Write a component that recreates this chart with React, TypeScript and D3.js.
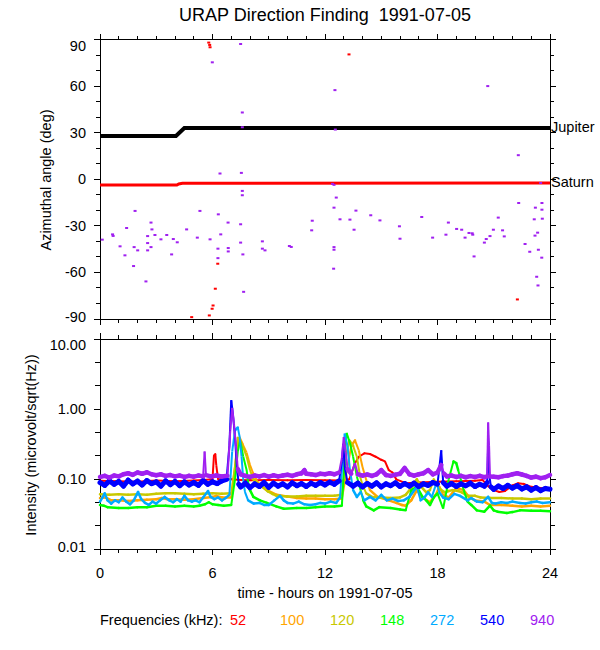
import React from 'react';
import * as d3 from 'd3';

const TITLE = 'URAP Direction Finding  1991-07-05';
const X_LABEL = 'time - hours on 1991-07-05';
const TOP_Y_LABEL = 'Azimuthal angle (deg)';
const BOTTOM_Y_LABEL = 'Intensity (microvolt/sqrt(Hz))';
const HOUR_LABELS = [0, 6, 12, 18, 24];
const ANGLE_LABELS = [90, 60, 30, 0, -30, -60, -90];
const INTENSITY_LABELS = [10, 1, 0.1, 0.01];

const FREQS = ['52', '100', '120', '148', '272', '540', '940'];
const FREQ_COLORS = ['#ff0000', '#ffa500', '#c8c800', '#00ff00', '#00aaff', '#0000ff', '#a020f0'];

// planet azimuths (hour, deg)
const jupiter: [number, number][] = [[0, 27.9], [4.05, 27.9], [4.5, 33.0], [24, 33.0]];
const saturn: [number, number][] = [[0, -3.7], [4.1, -3.7], [4.2, -3.0], [4.4, -2.6], [24, -2.4]];

// direction-finding points (hour, deg)
const azPurple: [number, number][] = [
  [0.12, -38.9], [0.67, -35.5], [0.7, -36.5], [1.07, -43.2], [1.33, -49], [1.42, -31.4], [1.79, -55.9],
  [1.82, -43.7], [1.87, -20.4], [2.01, -45.8], [2.45, -65.8], [2.54, -36.6], [2.54, -41.1], [2.54, -45.8],
  [2.72, -27.9], [2.77, -32.3], [2.72, -43.7], [2.93, -35.9], [3.25, -38.7], [3.56, -35.9], [3.82, -48.4],
  [3.91, -38.5], [4.12, -40.6], [4.62, -32.3], [5.19, -37.6], [5.33, -20.4], [5.87, -38.7], [5.99, 75.3],
  [6.31, -22.6], [6.29, -44.7], [6.29, -50.8], [6.4, 3.7], [6.44, -35.5], [6.83, -27.9], [6.84, -44.3],
  [6.84, -46.5], [7.5, 87.1], [7.59, 43], [7.59, 33.5], [7.54, 4.1], [7.59, -7.5], [7.59, -10.3], [7.5, -29],
  [7.5, -40.8], [7.62, -48.4], [7.66, -72.5], [8.66, -40], [8.66, -44.7], [8.8, -45.8], [10.1, -43],
  [10.2, -43.6], [11.32, -26.7], [11.29, -32.9], [12.53, 57.4], [12.55, 32], [12.4, -3], [12.48, -3.6],
  [12.6, -11.8], [12.48, -18.3], [12.8, -25.8], [13.33, -26], [13.55, -32.5], [13.65, -20.2], [14.44, -23.2],
  [14.93, -26.5], [15.97, -30.3], [16.0, -38.3], [12.48, -43.7], [12.48, -45.4], [12.46, -57.6], [17.16, -24.3],
  [17.74, -37.6], [18.58, -27.9], [18.45, -35.7], [19.02, -32], [19.29, -32.5], [19.47, -37.6], [19.68, -34.6],
  [19.85, -34.8], [19.88, -35.7], [19.95, -49.7], [20.5, -40.8], [20.6, -38.5], [20.8, -36.6], [20.68, 60],
  [20.98, -32.5], [21.24, -24.7], [21.47, -32.9], [21.56, -36.8], [22.31, 15.5], [22.33, -15.3], [22.67, -41.7],
  [22.92, -46.7], [23.22, -18.3], [23.16, -25.8], [23.2, -36.3], [23.34, -34.4], [23.38, -45.4], [23.29, -62.8],
  [23.36, -68.4], [23.57, -15.3], [23.57, -19.6], [23.59, -25.4], [23.56, -50.5], [23.5, -2.4],
];
const azRed: [number, number][] = [
  [5.8, 88], [5.85, 86.5], [5.87, 85], [6.28, -54.4], [6.15, -70.5], [6.03, -81.3], [5.98, -83.4],
  [5.83, -87.7], [4.89, -88.8], [13.28, 80.4], [22.26, -77.4],
];

// intensity per frequency channel (hour, microvolt/sqrt(Hz))
const s52: [number, number][] = [
  [0, 0.095], [1, 0.094], [2, 0.092], [3, 0.096], [4, 0.094], [5, 0.096], [5.5, 0.098], [6.0, 0.1],
  [6.08, 0.22], [6.15, 0.23], [6.2, 0.16], [6.3, 0.1], [7.0, 0.1], [7.5, 0.098], [8, 0.097], [9, 0.098],
  [10, 0.097], [11, 0.098], [12, 0.097], [13, 0.096], [13.3, 0.1], [13.4, 0.12], [13.6, 0.17], [13.8, 0.21],
  [14.1, 0.235], [14.4, 0.23], [14.7, 0.21], [15.0, 0.19], [15.2, 0.18], [15.4, 0.135], [15.6, 0.125],
  [15.8, 0.1], [16.3, 0.088], [17, 0.09], [18, 0.092], [19, 0.094], [20, 0.095], [20.4, 0.098], [20.7, 0.08],
  [21.0, 0.07], [21.3, 0.066], [21.6, 0.068], [22.0, 0.082], [22.3, 0.088], [22.6, 0.086], [23.0, 0.078],
  [23.5, 0.075], [24, 0.074],
];
const s100: [number, number][] = [
  [0, 0.054], [0.3, 0.055], [0.6, 0.05], [1, 0.05], [1.5, 0.049], [2, 0.05], [2.5, 0.051], [3, 0.052],
  [3.3, 0.054], [3.6, 0.052], [4, 0.052], [4.5, 0.051], [5, 0.052], [5.5, 0.054], [6, 0.056], [6.2, 0.058],
  [6.5, 0.055], [7.0, 0.055], [7.25, 0.2], [7.45, 0.39], [7.6, 0.32], [7.82, 0.24], [8.0, 0.16], [8.18, 0.12],
  [8.35, 0.095], [8.53, 0.083], [8.9, 0.07], [9.42, 0.06], [9.95, 0.057], [10.5, 0.054], [11, 0.053],
  [11.5, 0.053], [12, 0.052], [12.5, 0.052], [12.9, 0.053], [13.2, 0.15], [13.4, 0.3], [13.6, 0.36],
  [13.8, 0.26], [14.0, 0.15], [14.2, 0.098], [14.4, 0.07], [14.8, 0.056], [15.4, 0.05], [15.8, 0.046],
  [16.1, 0.043], [16.3, 0.042], [16.6, 0.05], [16.9, 0.07], [17.2, 0.055], [17.6, 0.047], [17.9, 0.06],
  [18.1, 0.08], [18.3, 0.06], [18.6, 0.055], [19.0, 0.075], [19.4, 0.07], [19.7, 0.055], [20.0, 0.05],
  [20.5, 0.048], [20.8, 0.043], [21.4, 0.043], [22, 0.042], [22.5, 0.041], [23, 0.042], [23.5, 0.041], [24, 0.042],
];
const s120: [number, number][] = [
  [0, 0.061], [0.5, 0.06], [1, 0.061], [1.5, 0.06], [2, 0.061], [2.5, 0.06], [3, 0.062], [3.5, 0.063],
  [4, 0.063], [4.5, 0.062], [5, 0.061], [5.5, 0.062], [6, 0.063], [6.5, 0.062], [7.0, 0.063], [7.2, 0.15],
  [7.35, 0.39], [7.5, 0.33], [7.65, 0.28], [7.82, 0.21], [8.0, 0.136], [8.17, 0.1], [8.35, 0.09], [8.53, 0.083],
  [8.75, 0.075], [8.96, 0.067], [9.2, 0.062], [9.42, 0.058], [10, 0.057], [10.5, 0.057], [11, 0.058],
  [11.5, 0.058], [12, 0.058], [12.5, 0.058], [12.9, 0.06], [13.1, 0.2], [13.3, 0.36], [13.5, 0.3], [13.7, 0.21],
  [13.87, 0.11], [14.0, 0.083], [14.2, 0.063], [14.5, 0.056], [15, 0.055], [15.5, 0.054], [16.0, 0.055],
  [16.3, 0.06], [16.6, 0.075], [16.9, 0.1], [17.1, 0.08], [17.4, 0.065], [17.6, 0.07], [17.8, 0.1], [18.0, 0.08],
  [18.2, 0.07], [18.4, 0.065], [18.6, 0.068], [18.8, 0.07], [19.1, 0.068], [19.3, 0.065], [19.6, 0.058],
  [20.0, 0.058], [20.3, 0.055], [20.8, 0.054], [21.4, 0.054], [22, 0.053], [22.5, 0.053], [23, 0.052],
  [23.5, 0.053], [24, 0.053],
];
const s148: [number, number][] = [
  [0, 0.043], [0.2, 0.042], [0.4, 0.04], [1, 0.039], [1.5, 0.039], [2, 0.04], [2.5, 0.04], [3.0, 0.042],
  [3.5, 0.042], [4, 0.041], [4.5, 0.042], [5.0, 0.041], [5.3, 0.042], [5.6, 0.044], [5.8, 0.047], [6.0, 0.044],
  [6.3, 0.043], [6.6, 0.042], [7.0, 0.043], [7.2, 0.1], [7.35, 0.25], [7.47, 0.36], [7.64, 0.21], [7.82, 0.136],
  [7.9, 0.088], [8.0, 0.07], [8.18, 0.056], [8.53, 0.05], [8.9, 0.046], [9.4, 0.041], [9.8, 0.038],
  [10.5, 0.039], [11.0, 0.039], [11.5, 0.04], [12, 0.041], [12.5, 0.041], [12.9, 0.042], [13.05, 0.2],
  [13.15, 0.46], [13.33, 0.33], [13.5, 0.21], [13.7, 0.11], [13.9, 0.07], [14.04, 0.05], [14.2, 0.041],
  [14.6, 0.036], [14.9, 0.04], [15.5, 0.039], [16.0, 0.037], [16.3, 0.036], [16.6, 0.07], [16.9, 0.078],
  [17.2, 0.056], [17.4, 0.05], [17.6, 0.043], [17.8, 0.055], [18.0, 0.063], [18.3, 0.038], [18.6, 0.1],
  [18.85, 0.18], [19.0, 0.17], [19.1, 0.136], [19.4, 0.07], [19.6, 0.048], [19.8, 0.043], [20.1, 0.036],
  [20.5, 0.0345], [20.8, 0.042], [21.0, 0.036], [21.2, 0.0345], [21.7, 0.033], [22.0, 0.034], [22.4, 0.036],
  [23.0, 0.0355], [23.5, 0.0355], [24, 0.035],
];
const s272: [number, number][] = [
  [0, 0.048], [0.15, 0.056], [0.25, 0.063], [0.4, 0.05], [0.6, 0.045], [0.8, 0.05], [1.0, 0.047], [1.2, 0.055],
  [1.4, 0.048], [1.6, 0.044], [1.8, 0.05], [2.03, 0.066], [2.2, 0.052], [2.4, 0.046], [2.6, 0.043], [2.8, 0.048],
  [3.0, 0.045], [3.2, 0.05], [3.45, 0.056], [3.7, 0.05], [3.9, 0.047], [4.1, 0.052], [4.3, 0.048], [4.5, 0.058],
  [4.7, 0.05], [4.9, 0.048], [5.1, 0.05], [5.3, 0.047], [5.5, 0.055], [5.76, 0.068], [5.9, 0.056], [6.1, 0.052],
  [6.3, 0.055], [6.5, 0.05], [6.7, 0.054], [6.9, 0.06], [7.05, 0.25], [7.2, 0.5], [7.35, 0.55], [7.45, 0.4],
  [7.55, 0.21], [7.64, 0.098], [7.73, 0.066], [7.9, 0.05], [8.2, 0.045], [8.5, 0.046], [8.75, 0.043],
  [9.0, 0.043], [9.3, 0.05], [9.6, 0.058], [9.8, 0.05], [10.0, 0.046], [10.3, 0.045], [10.6, 0.048],
  [10.9, 0.044], [11.2, 0.043], [11.5, 0.044], [11.75, 0.046], [12.0, 0.045], [12.3, 0.048], [12.6, 0.046],
  [12.8, 0.055], [12.95, 0.2], [13.05, 0.45], [13.2, 0.3], [13.33, 0.136], [13.5, 0.07], [13.7, 0.056],
  [13.9, 0.066], [14.1, 0.05], [14.4, 0.056], [14.7, 0.05], [15.0, 0.06], [15.3, 0.05], [15.6, 0.053],
  [15.9, 0.049], [16.2, 0.05], [16.5, 0.056], [16.9, 0.078], [17.1, 0.05], [17.3, 0.055], [17.5, 0.065],
  [17.7, 0.056], [17.95, 0.09], [18.1, 0.065], [18.3, 0.055], [18.6, 0.052], [18.9, 0.062], [19.2, 0.058],
  [19.6, 0.05], [19.8, 0.054], [20.1, 0.048], [20.4, 0.047], [20.7, 0.056], [20.9, 0.046], [21.1, 0.045],
  [21.4, 0.047], [21.7, 0.046], [22.0, 0.048], [22.4, 0.046], [22.7, 0.045], [23.0, 0.047], [23.3, 0.048],
  [23.6, 0.046], [24.0, 0.047],
];
const s540: [number, number][] = [
  [0, 0.09], [0.25, 0.082], [0.5, 0.095], [0.75, 0.085], [1.0, 0.093], [1.25, 0.08], [1.5, 0.097], [1.75, 0.086],
  [2.0, 0.094], [2.25, 0.083], [2.5, 0.096], [2.75, 0.087], [3.0, 0.092], [3.25, 0.08], [3.5, 0.095],
  [3.75, 0.084], [4.0, 0.093], [4.25, 0.081], [4.5, 0.092], [4.75, 0.083], [5.0, 0.09], [5.25, 0.082],
  [5.5, 0.096], [5.75, 0.085], [6.0, 0.092], [6.25, 0.087], [6.5, 0.095], [6.75, 0.1], [6.9, 0.3], [7.0, 1.35],
  [7.1, 0.8], [7.2, 0.4], [7.3, 0.15], [7.4, 0.085], [7.5, 0.078], [7.75, 0.088], [8.0, 0.076], [8.25, 0.086],
  [8.5, 0.079], [8.75, 0.09], [9.0, 0.077], [9.25, 0.088], [9.5, 0.08], [9.75, 0.086], [10.0, 0.078],
  [10.25, 0.089], [10.5, 0.081], [10.75, 0.087], [11.0, 0.079], [11.25, 0.088], [11.5, 0.082], [11.75, 0.09],
  [12.0, 0.083], [12.25, 0.091], [12.5, 0.085], [12.75, 0.095], [12.9, 0.18], [12.97, 0.32], [13.05, 0.15],
  [13.2, 0.09], [13.5, 0.08], [13.75, 0.088], [14.0, 0.078], [14.25, 0.087], [14.5, 0.08], [14.75, 0.089],
  [15.0, 0.078], [15.25, 0.086], [15.5, 0.081], [15.75, 0.089], [16.0, 0.079], [16.25, 0.087], [16.5, 0.08],
  [16.75, 0.088], [17.0, 0.079], [17.25, 0.086], [17.5, 0.082], [17.75, 0.09], [18.0, 0.085], [18.2, 0.26],
  [18.3, 0.09], [18.5, 0.08], [18.75, 0.087], [19.0, 0.079], [19.25, 0.086], [19.5, 0.081], [19.75, 0.088],
  [20.0, 0.079], [20.25, 0.085], [20.5, 0.08], [20.65, 0.09], [20.7, 0.31], [20.75, 0.12], [20.85, 0.078],
  [21.0, 0.072], [21.25, 0.08], [21.5, 0.074], [21.75, 0.082], [22.0, 0.075], [22.25, 0.081], [22.5, 0.073],
  [22.75, 0.078], [23.0, 0.07], [23.25, 0.076], [23.5, 0.069], [23.75, 0.074], [24.0, 0.072],
];
const s940: [number, number][] = [
  [0, 0.108], [0.25, 0.112], [0.5, 0.106], [0.75, 0.113], [1.0, 0.11], [1.25, 0.118], [1.5, 0.122],
  [1.75, 0.116], [2.0, 0.125], [2.25, 0.12], [2.5, 0.126], [2.75, 0.118], [3.0, 0.114], [3.25, 0.118],
  [3.5, 0.112], [3.75, 0.115], [4.0, 0.11], [4.25, 0.113], [4.5, 0.108], [4.75, 0.112], [5.0, 0.109],
  [5.25, 0.113], [5.5, 0.11], [5.58, 0.25], [5.65, 0.115], [5.9, 0.11], [6.2, 0.113], [6.5, 0.11], [6.8, 0.112],
  [6.95, 0.5], [7.05, 1.05], [7.15, 0.6], [7.25, 0.3], [7.35, 0.14], [7.5, 0.118], [7.75, 0.112], [8.0, 0.108],
  [8.25, 0.113], [8.5, 0.11], [8.75, 0.115], [9.0, 0.109], [9.25, 0.114], [9.5, 0.11], [9.75, 0.113],
  [10.0, 0.116], [10.25, 0.112], [10.5, 0.118], [10.75, 0.122], [10.9, 0.135], [11.0, 0.12], [11.25, 0.118],
  [11.5, 0.115], [11.75, 0.12], [12.0, 0.118], [12.25, 0.122], [12.5, 0.118], [12.75, 0.125], [12.9, 0.2],
  [13.0, 0.4], [13.1, 0.25], [13.2, 0.14], [13.4, 0.12], [13.6, 0.17], [13.75, 0.118], [14.0, 0.113],
  [14.25, 0.117], [14.5, 0.112], [14.75, 0.118], [15.0, 0.135], [15.25, 0.115], [15.5, 0.112], [15.75, 0.116],
  [16.0, 0.12], [16.25, 0.145], [16.5, 0.118], [16.75, 0.113], [17.0, 0.118], [17.25, 0.122], [17.5, 0.135],
  [17.75, 0.118], [18.0, 0.125], [18.2, 0.16], [18.35, 0.12], [18.5, 0.11], [18.75, 0.113], [19.0, 0.108],
  [19.25, 0.112], [19.5, 0.107], [19.75, 0.111], [20.0, 0.108], [20.25, 0.112], [20.5, 0.107], [20.65, 0.11],
  [20.7, 0.65], [20.75, 0.3], [20.8, 0.11], [21.0, 0.109], [21.25, 0.107], [21.5, 0.111], [21.75, 0.113],
  [22.0, 0.118], [22.25, 0.122], [22.5, 0.117], [22.75, 0.112], [23.0, 0.106], [23.25, 0.109], [23.5, 0.104],
  [23.75, 0.107], [24.0, 0.115],
];
const SERIES = [s52, s100, s120, s148, s272, s540, s940];
const SERIES_WIDTH = [2, 2.5, 2.5, 2.5, 2.5, 5, 4.5];

const FONT = '"Liberation Sans", Arial, Helvetica, sans-serif';

const x = d3.scaleLinear().domain([0, 24]).range([100, 550]);
const yAz = d3.scaleLinear().domain([-90, 90]).range([319, 39.5]);
const yInt = d3.scaleLog().domain([0.01, 10]).range([549.3, 339.3]);

const TOP = { y0: 39.5, y1: 319 };
const BOT = { y0: 339.3, y1: 549.3 };

function Frame({ y0, y1 }: { y0: number; y1: number }) {
  const hours = d3.range(0, 25);
  return (
    <g stroke="#000" strokeWidth={1} shapeRendering="crispEdges">
      <rect x={100} y={y0} width={450} height={y1 - y0} fill="none" />
      {hours.map((h) => {
        const len = h % 6 === 0 ? 6 : 4;
        return (
          <g key={h}>
            <line x1={x(h)} x2={x(h)} y1={y0} y2={y0 - len} />
            <line x1={x(h)} x2={x(h)} y1={y1} y2={y1 + len} />
          </g>
        );
      })}
    </g>
  );
}

// one channel: thick band for slow parts, thin strokes where the value jumps (spikes)
function Channel({ data, color, width }: { data: [number, number][]; color: string; width: number }) {
  const pts = data.map((d) => [x(d[0]), yInt(d[1])]);
  const segs = [];
  for (let i = 1; i < pts.length; i++) {
    const [x1, y1] = pts[i - 1];
    const [x2, y2] = pts[i];
    const steep = Math.abs(y2 - y1) > 8 && Math.abs(y2 - y1) > 2 * Math.abs(x2 - x1);
    segs.push(
      <line
        key={i}
        x1={x1}
        y1={y1}
        x2={x2}
        y2={y2}
        stroke={color}
        strokeWidth={steep ? Math.min(width, 2) : width}
        strokeLinecap={steep ? 'butt' : 'round'}
      />
    );
  }
  return <g>{segs}</g>;
}

export default function App() {
  const azLine = d3
    .line<[number, number]>()
    .x((d) => x(d[0]))
    .y((d) => yAz(d[1]));

  const angleTicks = d3.range(-90, 91, 10);
  const logTicks: { v: number; major: boolean }[] = [];
  [-2, -1, 0].forEach((k) => {
    logTicks.push({ v: Math.pow(10, k), major: true });
    logTicks.push({ v: Math.pow(10, k + 1 / 3), major: false });
    logTicks.push({ v: Math.pow(10, k + 2 / 3), major: false });
  });
  logTicks.push({ v: 10, major: true });

  return (
    <svg
      width={600}
      height={650}
      style={{ position: 'absolute', left: 0, top: 0, background: '#fff', fontFamily: FONT }}
    >
      <rect width={600} height={650} fill="#fff" />
      <text x={325} y={21} textAnchor="middle" fontSize={18} style={{ whiteSpace: 'pre' }}>
        {TITLE}
      </text>

      {/* top panel: azimuth */}
      <Frame {...TOP} />
      <g stroke="#000" strokeWidth={1} shapeRendering="crispEdges">
        {angleTicks.map((a) => {
          const len = a % 30 === 0 ? 6 : 4;
          return (
            <g key={a}>
              <line x1={100} x2={100 - len} y1={yAz(a)} y2={yAz(a)} />
              <line x1={550} x2={550 + len} y1={yAz(a)} y2={yAz(a)} />
            </g>
          );
        })}
      </g>
      {ANGLE_LABELS.map((a, i) => (
        <text
          key={a}
          x={86}
          y={yAz(a) + 5 + (i === 0 ? 6 : i === ANGLE_LABELS.length - 1 ? -2 : 0)}
          textAnchor="end"
          fontSize={14.5}
        >
          {a}
        </text>
      ))}
      <text transform="translate(51,180) rotate(-90)" textAnchor="middle" fontSize={14.5}>
        {TOP_Y_LABEL}
      </text>
      <path d={azLine(jupiter) || ''} fill="none" stroke="#000" strokeWidth={4} />
      <path d={azLine(saturn) || ''} fill="none" stroke="#ff0000" strokeWidth={3} />
      {azPurple.map((d, i) => (
        <rect key={'p' + i} x={x(d[0]) - 1.5} y={yAz(d[1]) - 1} width={3} height={2} fill="#a020f0" />
      ))}
      {azRed.map((d, i) => (
        <rect key={'r' + i} x={x(d[0]) - 1.5} y={yAz(d[1]) - 1} width={3} height={2} fill="#ff0000" />
      ))}
      <text x={551} y={132} fontSize={14.5}>Jupiter</text>
      <text x={551} y={187} fontSize={14.5}>Saturn</text>

      {/* bottom panel: intensity */}
      <Frame {...BOT} />
      <g stroke="#000" strokeWidth={1} shapeRendering="crispEdges">
        {logTicks.map((t, i) => {
          const len = t.major ? 6 : 5;
          return (
            <g key={i}>
              <line x1={100} x2={100 - len} y1={yInt(t.v)} y2={yInt(t.v)} />
              <line x1={550} x2={550 + len} y1={yInt(t.v)} y2={yInt(t.v)} />
            </g>
          );
        })}
      </g>
      {INTENSITY_LABELS.map((v, i) => (
        <text
          key={v}
          x={86}
          y={yInt(v) + 5 + (i === 0 ? 6 : i === INTENSITY_LABELS.length - 1 ? -2.5 : 0)}
          textAnchor="end"
          fontSize={14.5}
        >
          {v.toFixed(2)}
        </text>
      ))}
      <text transform="translate(36,445) rotate(-90)" textAnchor="middle" fontSize={14.5}>
        {BOTTOM_Y_LABEL}
      </text>
      {SERIES.map((s, i) => (
        <Channel key={FREQS[i]} data={s} color={FREQ_COLORS[i]} width={SERIES_WIDTH[i]} />
      ))}

      {HOUR_LABELS.map((h) => (
        <text key={h} x={x(h)} y={578} textAnchor="middle" fontSize={14.5}>
          {h}
        </text>
      ))}
      <text x={325} y={598} textAnchor="middle" fontSize={14.5}>
        {X_LABEL}
      </text>

      <text x={100} y={625} fontSize={14.5}>Frequencies (kHz):</text>
      {FREQS.map((f, i) => (
        <text key={f} x={230 + i * 50} y={625} fontSize={14.5} fill={FREQ_COLORS[i]}>
          {f}
        </text>
      ))}
    </svg>
  );
}
